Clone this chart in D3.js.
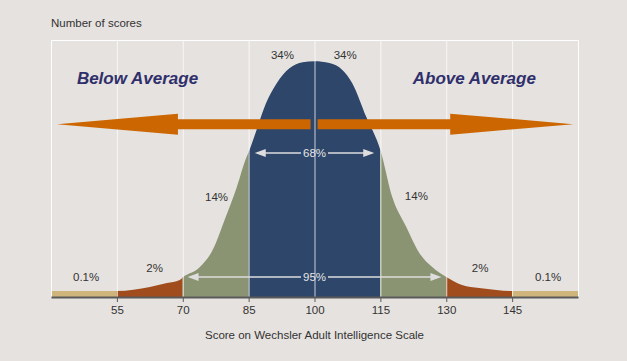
<!DOCTYPE html>
<html>
<head>
<meta charset="utf-8">
<script src="https://cdn.jsdelivr.net/npm/d3@7"></script>
<style>
  html, body { margin: 0; padding: 0; background: #e6e2df; }
  svg { display: block; font-family: 'Liberation Sans', Arial, sans-serif; }
</style>
</head>
<body>
<svg id="chart" width="627" height="361"></svg>
<script>
// curve: score vs relative number of scores (peak = 100)
const scores = [40, 55, 62.5, 66.4, 69.3, 70, 73.9, 76.8, 79.5, 82.3, 84.5, 85, 86.8, 88.6, 91.4, 94.3, 97.3, 100,
  103.4, 106.4, 108.6, 111.8, 115, 117.7, 120.9, 123.9, 126.8, 130, 133.6, 137.5, 141.4, 145, 160]
const counts = [2.5, 2.5, 4.2, 5.9, 7.2, 8.3, 12.7, 19.9, 32.6, 46.6, 59.3, 61.4, 70.8, 80.5, 90.7, 97, 99.6, 100,
  99.2, 96.2, 90.7, 76.3, 62.3, 42.4, 29.7, 18.6, 12.7, 8.5, 5.1, 3.8, 3, 2.5, 2.5]

// bands between the standard deviation marks
const bandEdges = [40, 55, 70, 85, 115, 130, 145, 160]
const bandColors = ['#cfb47b', '#a04c1d', '#8a9473', '#2e4669', '#8a9473', '#a04c1d', '#cfb47b']
const bandLabels = ['0.1%', '2%', '14%', '34%', '34%', '14%', '2%', '0.1%']

const tickValues = [55, 70, 85, 100, 115, 130, 145]
const gridValues = [40, 55, 70, 85, 100, 115, 130, 145, 160]

const svg = d3.select('#chart')
const margin = { left: 51, right: 49, top: 40, bottom: 64 }
const width = 627 - margin.left - margin.right
const height = 361 - margin.top - margin.bottom

const x = d3.scaleLinear().domain([40, 160]).range([margin.left, margin.left + width])
const y = d3.scaleLinear().domain([0, 109]).range([margin.top + height, margin.top])

const pts = scores.map((s, i) => [s, counts[i]])
const area = d3.area()
  .x((d) => x(d[0]))
  .y0(y(0))
  .y1((d) => y(d[1]))
  .curve(d3.curveMonotoneX)

// one clip per band, full curve drawn inside each
const defs = svg.append('defs')
bandColors.forEach((c, i) => {
  defs.append('clipPath').attr('id', 'band' + i)
    .append('rect')
    .attr('x', x(bandEdges[i]))
    .attr('y', margin.top)
    .attr('width', x(bandEdges[i + 1]) - x(bandEdges[i]))
    .attr('height', height)
})
const bands = svg.append('g').attr('class', 'bands')
bandColors.forEach((c, i) => {
  bands.append('path')
    .datum(pts)
    .attr('d', area)
    .attr('fill', c)
    .attr('clip-path', `url(#band${i})`)
})

// grid on top of the curve
const grid = svg.append('g').attr('class', 'grid')
grid.selectAll('line')
  .data(gridValues).enter()
  .append('line')
  .attr('x1', (d) => x(d) + 0.5)
  .attr('x2', (d) => x(d) + 0.5)
  .attr('y1', margin.top)
  .attr('y2', margin.top + height)
  .attr('stroke', '#fff')
  .attr('stroke-opacity', (d) => d === 40 || d === 160 ? 1 : 0.75)
grid.append('line')
  .attr('x1', x(40))
  .attr('x2', x(160) + 1)
  .attr('y1', margin.top + 0.5)
  .attr('y2', margin.top + 0.5)
  .attr('stroke', '#fff')

// x axis
const axis = svg.append('g')
  .attr('transform', `translate(0,${margin.top + height})`)
  .call(d3.axisBottom(x).tickValues(tickValues).tickSize(5).tickPadding(4).tickSizeOuter(0))
axis.select('.domain').attr('stroke', '#5a5a5a').attr('stroke-width', 2)
axis.selectAll('.tick line').attr('stroke', '#5a5a5a')
axis.selectAll('.tick text')
  .attr('fill', '#333')
  .style('font-size', '11.5px')
  .style('font-family', "'Liberation Sans', Arial, sans-serif")

svg.append('text')
  .attr('x', x(100))
  .attr('y', 339)
  .attr('text-anchor', 'middle')
  .attr('fill', '#333')
  .style('font-size', '11.5px')
  .text('Score on Wechsler Adult Intelligence Scale')

svg.append('text')
  .attr('x', margin.left)
  .attr('y', 27)
  .attr('fill', '#333')
  .style('font-size', '11.5px')
  .text('Number of scores')

// percentage labels
const labelPos = [[48, 8.5], [63.6, 12.3], [77.7, 42.4], [92.7, 102.5], [107, 102.5], [123.2, 42.8], [137.7, 12.3], [153.2, 8.5]]
svg.append('g').selectAll('text')
  .data(bandLabels).enter()
  .append('text')
  .attr('x', (d, i) => x(labelPos[i][0]))
  .attr('y', (d, i) => y(labelPos[i][1]))
  .attr('dy', '0.35em')
  .attr('text-anchor', 'middle')
  .attr('fill', '#333')
  .style('font-size', '11.5px')
  .text((d) => d)

// orange arrows
const arrowY = y(73.3)
const leftArrow = [[41.4, 0], [68.9, -10.5], [68.9, -5], [99.1, -5], [99.1, 5], [68.9, 5], [68.9, 10.5]]
const rightArrow = [[158.9, 0], [130.9, -10.5], [130.9, -5], [100.7, -5], [100.7, 5], [130.9, 5], [130.9, 10.5]]
const arrowLine = d3.line().x((d) => x(d[0])).y((d) => arrowY + d[1])
;[leftArrow, rightArrow].forEach((a) => {
  svg.append('path')
    .attr('d', arrowLine(a) + 'Z')
    .attr('fill', '#cc6600')
})

svg.append('text')
  .attr('x', x(59.7))
  .attr('y', 84)
  .attr('text-anchor', 'middle')
  .attr('fill', '#2f2f6c')
  .style('font-size', '17px')
  .style('font-weight', 'bold')
  .style('font-style', 'italic')
  .text('Below Average')
svg.append('text')
  .attr('x', x(136.4))
  .attr('y', 84)
  .attr('text-anchor', 'middle')
  .attr('fill', '#2f2f6c')
  .style('font-size', '17px')
  .style('font-weight', 'bold')
  .style('font-style', 'italic')
  .text('Above Average')

// 68% and 95% range arrows
function rangeArrow(lo, hi, yy, label) {
  const g = svg.append('g')
  const cx = x(100)
  const t = g.append('text')
    .attr('x', cx)
    .attr('y', yy)
    .attr('dy', '0.35em')
    .attr('text-anchor', 'middle')
    .attr('fill', '#e4e4e4')
    .style('font-size', '11.5px')
    .text(label)
  const w = t.node().getComputedTextLength() / 2 + 2
  const col = '#dedede'
  g.append('line').attr('x1', x(lo) + 8).attr('x2', cx - w).attr('y1', yy).attr('y2', yy)
    .attr('stroke', col).attr('stroke-width', 1.5)
  g.append('line').attr('x1', cx + w).attr('x2', x(hi) - 8).attr('y1', yy).attr('y2', yy)
    .attr('stroke', col).attr('stroke-width', 1.5)
  g.append('path')
    .attr('d', `M${x(lo)},${yy} l11,-4 v8 Z`)
    .attr('fill', col)
  g.append('path')
    .attr('d', `M${x(hi)},${yy} l-11,-4 v8 Z`)
    .attr('fill', col)
}
rangeArrow(86.4, 113.6, 153, '68%')
rangeArrow(71.1, 128.9, 277, '95%')
</script>
</body>
</html>
